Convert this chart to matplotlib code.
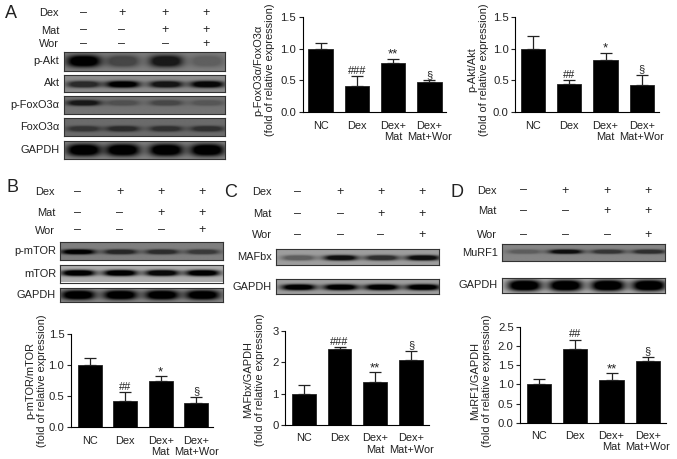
import numpy as np
import matplotlib
matplotlib.use('Agg')
import matplotlib.pyplot as plt

plt.rcParams['font.family'] = ['Liberation Sans', 'DejaVu Sans']
plt.rcParams['font.size'] = 7.9

W, H = 677, 459
TXT = '#222222'

groups = ['NC', 'Dex', 'Dex+\nMat', 'Dex+\nMat+Wor']

# bar heights / upper error
foxo_vals = [1.0, 0.42, 0.77, 0.47]
foxo_err = [0.08, 0.145, 0.07, 0.03]
foxo_marks = ['', '###', '**', '§']
akt_vals = [1.0, 0.44, 0.815, 0.425]
akt_err = [0.19, 0.06, 0.12, 0.165]
akt_marks = ['', '##', '*', '§']
mtor_vals = [1.0, 0.42, 0.75, 0.39]
mtor_err = [0.12, 0.145, 0.07, 0.105]
mtor_marks = ['', '##', '*', '§']
mafbx_vals = [1.0, 2.41, 1.36, 2.07]
mafbx_err = [0.27, 0.06, 0.32, 0.30]
mafbx_marks = ['', '###', '**', '§']
murf_vals = [1.0, 1.91, 1.10, 1.61]
murf_err = [0.13, 0.24, 0.19, 0.10]
murf_marks = ['', '##', '**', '§']

# treatment table, one row per drug
dex_row = ['–', '+', '+', '+']
mat_row = ['–', '–', '+', '+']
wor_row = ['–', '–', '–', '+']

# band strength per lane for the blots
p_akt = [1.0, 0.45, 0.8, 0.25]
akt = [0.7, 1.0, 0.85, 0.95]
p_foxo = [0.8, 0.3, 0.38, 0.25]
foxo = [0.5, 0.6, 0.55, 0.55]
gapdh_a = [1.0, 1.0, 1.0, 1.0]
p_mtor = [1.0, 0.7, 0.65, 0.55]
mtor = [1.0, 1.0, 0.95, 1.0]
gapdh_b = [1.0, 1.0, 1.0, 1.0]
mafbx = [0.4, 0.9, 0.7, 0.9]
gapdh_c = [1.0, 1.0, 1.0, 1.0]
murf1 = [0.3, 0.9, 0.6, 0.65]
gapdh_d = [1.0, 1.0, 1.0, 1.0]

fig = plt.figure(figsize=(W / 100, H / 100), dpi=100, facecolor='white')


def px_axes(x0, y0, x1, y1):
    return fig.add_axes([x0 / W, 1 - y1 / H, (x1 - x0) / W, (y1 - y0) / H])


def put(x, y, s, **kw):
    kw.setdefault('color', TXT)
    kw.setdefault('va', 'center')
    fig.text(x / W, 1 - y / H, s, **kw)


def blot(x0, y0, x1, y1, lanes, strengths, bg, label, thick=0.2, mid=0.5, label_y=None):
    ax = px_axes(x0, y0, x1, y1)
    xx, yy = np.meshgrid(np.arange(x0, x1, 0.5), np.linspace(0, 1, 40))
    img = np.full(xx.shape, bg)
    for c, s in zip(lanes, strengths):
        band = np.exp(-(np.abs(xx - c) / 16.5) ** 3) * np.exp(-(np.abs(yy - mid) / thick) ** 2.5)
        img = img - np.clip(band * 1.5, 0, 1) * s * bg
    ax.imshow(img, cmap='gray', vmin=0, vmax=1, aspect='auto', interpolation='bilinear')
    ax.set_xticks([])
    ax.set_yticks([])
    for sp in ax.spines.values():
        sp.set_color('#333333')
        sp.set_linewidth(0.8)
    put(x0 - 4, label_y if label_y else (y0 + y1) / 2, label, ha='right', fontsize=7.9)


def header(lanes, right, ys):
    for name, row, y in zip(['Dex', 'Mat', 'Wor'], [dex_row, mat_row, wor_row], ys):
        put(right, y, name, ha='right')
        for c, sign in zip(lanes, row):
            put(c, y, sign, ha='center', fontsize=9)


def chart(box, first, step, vals, err, marks, ymax, yticks, ylabel, label_xy):
    x0, y0, x1, y1 = box
    ax = px_axes(x0, y0, x1, y1)
    pos = np.arange(len(vals))
    ax.bar(pos, vals, width=0.67, color='black', edgecolor='#222222', linewidth=0.6,
           yerr=[np.zeros(len(err)), err], error_kw=dict(ecolor='#222222', elinewidth=0.9, capsize=4.3, capthick=0.9))
    ax.set_xlim((x0 - first) / step, (x1 - first) / step)
    ax.set_ylim(0, ymax)
    ax.set_yticks(yticks)
    ax.set_yticklabels(['%g' % t if ymax == 3 else '%.1f' % t for t in yticks], fontsize=8.1, color=TXT)
    ax.set_xticks(pos)
    ax.set_xticklabels(groups, fontsize=7.9, color=TXT, linespacing=1.15)
    ax.tick_params(axis='x', length=0, pad=6)
    ax.tick_params(axis='y', length=3, width=0.8, pad=1.5, color='#222222')
    ax.spines['top'].set_visible(False)
    ax.spines['right'].set_visible(False)
    ax.spines['left'].set_linewidth(0.8)
    ax.spines['bottom'].set_linewidth(0.8)
    ax.patch.set_alpha(0)
    for i, m in enumerate(marks):
        if m:
            size = 9.5 if '*' in m else 7.9
            off = -1.5 if '*' in m else 0.5
            ax.annotate(m, (i, vals[i] + err[i]), xytext=(0, off), textcoords='offset points',
                        ha='center', va='bottom', fontsize=size, color=TXT, annotation_clip=False)
    put(label_xy[0], label_xy[1], ylabel, rotation=90, ha='center', ma='center', fontsize=7.9, linespacing=1.2)


# panel A
lanes_a = [83, 122, 165, 206]
put(11, 13, 'A', ha='center', fontsize=13)
header(lanes_a, 59, [13, 30.5, 44])
blot(63.5, 52, 225, 71, lanes_a, p_akt, 0.5, 'p-Akt', thick=0.32, mid=0.48)
blot(63.5, 75, 225, 92, lanes_a, akt, 0.55, 'Akt', thick=0.2, mid=0.55)
blot(63.5, 96, 225, 114, lanes_a, p_foxo, 0.45, 'p-FoxO3α', thick=0.16, mid=0.38)
blot(63.5, 118, 225, 136, lanes_a, foxo, 0.42, 'FoxO3α', thick=0.16, mid=0.6)
blot(63.5, 141, 225, 159, lanes_a, gapdh_a, 0.52, 'GAPDH', thick=0.34)
chart((302.5, 16.7, 446, 112.3), 320.5, 36.3, foxo_vals, foxo_err, foxo_marks, 1.5, [0, 0.5, 1.0, 1.5],
      'p-FoxO3α/FoxO3α\n(fold of relative expression)', (264.5, 70))
chart((515, 16.7, 659, 112.3), 533, 36.3, akt_vals, akt_err, akt_marks, 1.5, [0, 0.5, 1.0, 1.5],
      'p-Akt/Akt\n(fold of relative expression)', (478, 70))

# panel B
lanes_b = [78, 120, 161.5, 202]
put(13, 188, 'B', ha='center', fontsize=13)
header(lanes_b, 55, [192, 213, 230.5])
blot(60, 242, 222.5, 260, lanes_b, p_mtor, 0.5, 'p-mTOR', thick=0.14, mid=0.55)
blot(60, 265, 222.5, 282.5, lanes_b, mtor, 0.68, 'mTOR', thick=0.17, mid=0.5)
blot(60, 288, 222.5, 302, lanes_b, gapdh_b, 0.55, 'GAPDH', thick=0.34)
chart((70.7, 334.3, 213, 427.3), 89.7, 35.5, mtor_vals, mtor_err, mtor_marks, 1.5, [0, 0.5, 1.0, 1.5],
      'p-mTOR/mTOR\n(fold of relative expression)', (36, 380.5))

# panel C
lanes_c = [298, 340, 381, 422]
put(231, 192, 'C', ha='center', fontsize=13)
header(lanes_c, 271.5, [192, 214, 235.5])
blot(275.7, 249, 439, 265, lanes_c, mafbx, 0.62, 'MAFbx', thick=0.16, mid=0.58)
blot(275.7, 279, 439, 294, lanes_c, gapdh_c, 0.62, 'GAPDH', thick=0.2, mid=0.55)
chart((285, 330.7, 429, 425), 303.7, 35.8, mafbx_vals, mafbx_err, mafbx_marks, 3, [0, 1, 2, 3],
      'MAFbx/GAPDH\n(fold of relative expression)', (254, 380))

# panel D
lanes_d = [524, 565, 607, 648]
put(457, 192, 'D', ha='center', fontsize=13)
header(lanes_d, 496.5, [190.5, 211, 235.5])
blot(501.7, 244, 665, 261, lanes_d, murf1, 0.52, 'MuRF1', thick=0.13, mid=0.45, label_y=253)
blot(501.7, 278, 665, 293, lanes_d, gapdh_d, 0.72, 'GAPDH', thick=0.38)
chart((520, 326.7, 666, 422.7), 538.7, 36.4, murf_vals, murf_err, murf_marks, 2.5, [0, 0.5, 1.0, 1.5, 2.0, 2.5],
      'MuRF1/GAPDH\n(fold of relative expression)', (481, 381))

fig.savefig('out.png', dpi=100)
